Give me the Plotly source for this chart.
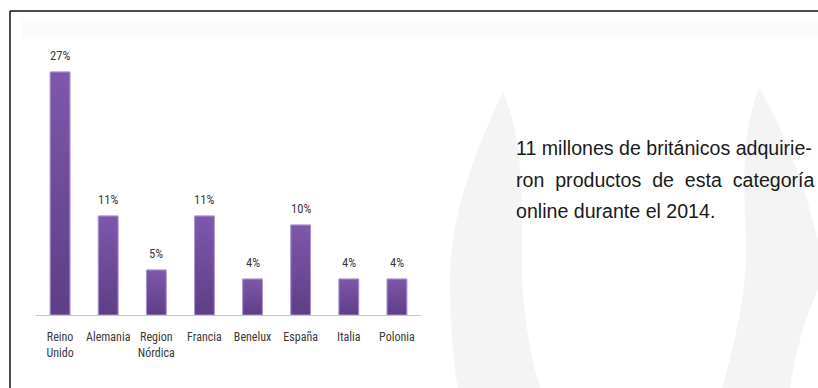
import plotly.graph_objects as go

# Online purchase share by market (%)
markets = ["Reino<br>Unido", "Alemania", "Region<br>Nórdica", "Francia",
           "Benelux", "España", "Italia", "Polonia"]
shares = [27, 11, 5, 11, 4, 10, 4, 4]
share_labels = [f"{v}%" for v in shares]

note_lines = [
    "11 millones de británicos adquirie-",
    "ron\u00a0\u00a0productos\u00a0\u00a0de\u00a0\u00a0esta\u00a0\u00a0categoría",
    "online durante el 2014.",
]

W, H = 818, 388
BAR_W = 0.41
positions = list(range(len(markets)))


def px(x, y):
    """Pixel position -> paper coordinates."""
    return x / W, 1 - y / H


def path(points):
    out = []
    for cmd, pts in points:
        coords = " ".join(f"{px(a, b)[0]:.4f},{px(a, b)[1]:.4f}" for a, b in pts)
        out.append(f"{cmd} {coords}")
    return " ".join(out) + " Z"


label_font = dict(family="Roboto Condensed, DejaVu Sans Condensed, sans-serif",
                  size=12, color="#3a3a3a")
value_font = dict(label_font, size=12.6)

fig = go.Figure()
fig.add_trace(go.Bar(
    x=positions, y=shares,
    width=BAR_W,
    marker=dict(color="#6b4995", line=dict(color="rgba(175,155,210,0.9)", width=1)),
    hoverinfo="skip",
))

# vertical light-to-dark shading laid over each bar
half = BAR_W / 2
for i, v in zip(positions, shares):
    fig.add_trace(go.Scatter(
        x=[i - half, i - half, i + half, i + half, i - half],
        y=[0, v, v, 0, 0],
        mode="lines", fill="toself",
        line=dict(color="rgba(175,155,210,0.9)", width=1),
        fillgradient=dict(type="vertical",
                          colorscale=[[0, "#5e3e86"], [1, "#7e57ab"]]),
        hoverinfo="skip",
    ))

annotations = []
for i, v, t in zip(positions, shares, share_labels):
    annotations.append(dict(x=i, y=v, xref="x", yref="y", text=t, showarrow=False,
                            yanchor="bottom", yshift=7, font=value_font))

note_y = [148, 180, 211]
for line, yy in zip(note_lines, note_y):
    annotations.append(dict(x=px(514, 0)[0], y=px(0, yy)[1], xref="paper", yref="paper",
                            text=line, showarrow=False, xanchor="left", yanchor="middle",
                            font=dict(family="Liberation Sans, Arial, sans-serif",
                                      size=19.6, color="#1a1a1a")))

shapes = [
    # faint header band
    dict(type="rect", xref="paper", yref="paper",
         x0=px(22, 0)[0], x1=1, y0=px(0, 37)[1], y1=px(0, 20)[1],
         fillcolor="#fbfbfb", line=dict(width=0), layer="below"),
    # watermark: left horn
    dict(type="path", xref="paper", yref="paper", layer="below",
         fillcolor="#f4f4f4", line=dict(width=0),
         path=path([("M", [(503, 92)]),
                    ("C", [(480, 140), (450, 210), (450, 280)]),
                    ("C", [(450, 320), (453, 360), (458, 390)]),
                    ("L", [(541, 390)]),
                    ("C", [(528, 350), (521, 300), (522, 250)]),
                    ("C", [(523, 180), (520, 130), (503, 92)])])),
    # watermark: right horn
    dict(type="path", xref="paper", yref="paper", layer="below",
         fillcolor="#f4f4f4", line=dict(width=0),
         path=path([("M", [(759, 88)]),
                    ("C", [(785, 130), (810, 200), (820, 250)]),
                    ("L", [(820, 285)]),
                    ("C", [(805, 320), (795, 350), (790, 390)]),
                    ("L", [(722, 390)]),
                    ("C", [(735, 340), (748, 290), (746, 240)]),
                    ("C", [(743, 180), (742, 130), (759, 88)])])),
    # frame lines
    dict(type="line", xref="paper", yref="paper",
         x0=px(10, 0)[0], x1=1, y0=px(0, 11)[1], y1=px(0, 11)[1],
         line=dict(color="#111111", width=1.5)),
    dict(type="line", xref="paper", yref="paper",
         x0=px(10, 0)[0], x1=px(10, 0)[0], y0=0, y1=px(0, 11)[1],
         line=dict(color="#111111", width=1.5)),
]

fig.update_layout(
    width=W, height=H,
    margin=dict(l=0, r=0, t=0, b=0),
    paper_bgcolor="white", plot_bgcolor="rgba(0,0,0,0)",
    showlegend=False,
    annotations=annotations,
    shapes=shapes,
    xaxis=dict(domain=[36 / W, 421 / W], range=[-0.5, len(markets) - 0.5],
               tickmode="array", tickvals=positions, ticktext=markets,
               showgrid=False, zeroline=False,
               showline=True, linecolor="#c4c4c4", linewidth=1,
               ticks="", tickangle=0, tickfont=label_font, ticklabelstandoff=11,
               fixedrange=True),
    yaxis=dict(domain=[1 - 315 / H, 1 - 45 / H], range=[0, 30], visible=False,
               showgrid=False, zeroline=False, fixedrange=True),
)

fig.write_html("out.html")
